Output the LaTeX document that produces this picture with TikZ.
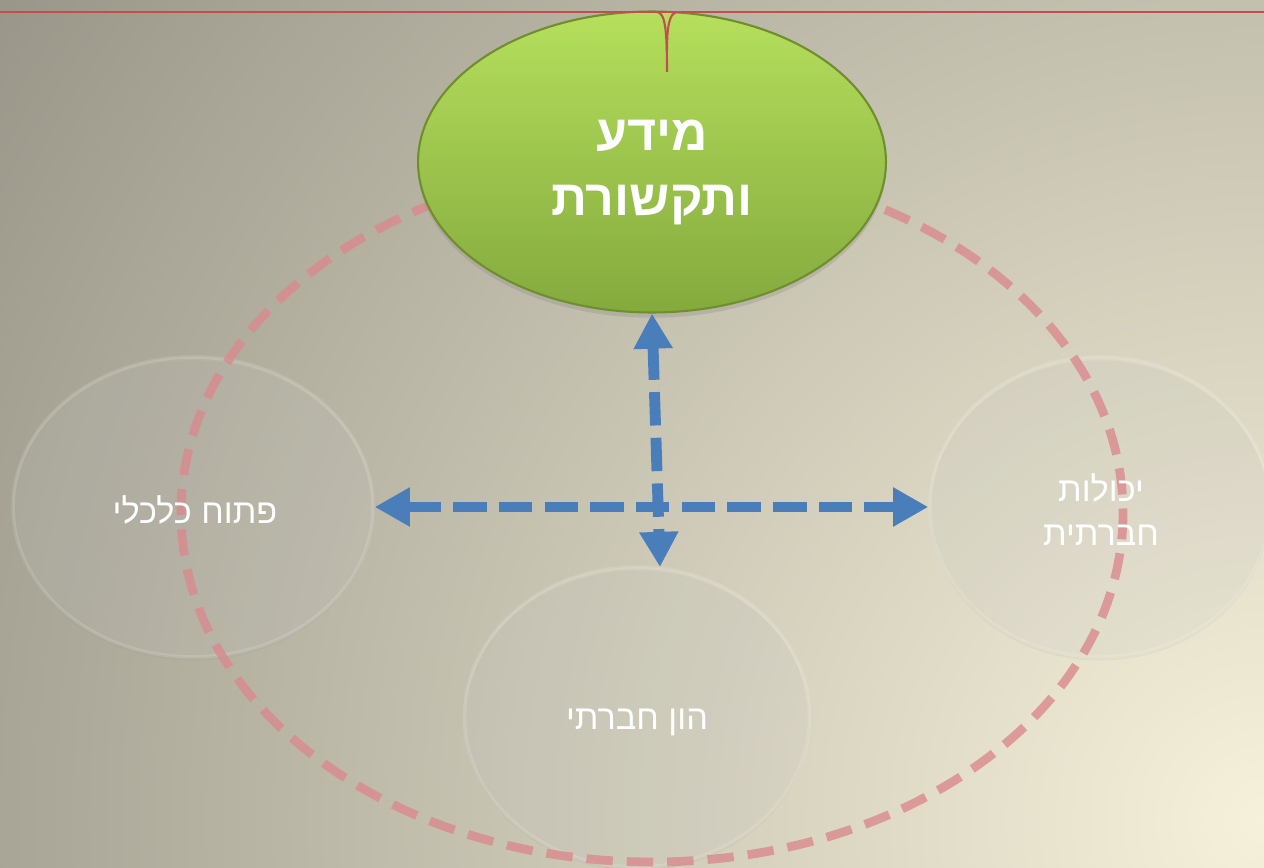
\documentclass[tikz,border=0pt]{standalone}
\usepackage{fontspec}
\usetikzlibrary{arrows.meta,shapes.geometric,shadows}
\newfontfamily\hebfont[Script=Hebrew]{Liberation Sans}
\TeXXeTstate=1
\definecolor{bgdark}{HTML}{9A978A}
\definecolor{bglight}{HTML}{F6F1DA}
\definecolor{topline}{HTML}{C0504D}
\definecolor{ringcol}{HTML}{DA8A8D}
\definecolor{arrowcol}{HTML}{4A7EBB}
\definecolor{greentop}{HTML}{B5DF5C}
\definecolor{greenbot}{HTML}{84AA3E}
\definecolor{greenedge}{HTML}{6E8F2B}

\begin{document}
\begin{tikzpicture}[x=0.02cm, y=-0.02cm,
		bubble/.style={ellipse, inner sep=0pt, minimum width=#1, minimum height=6cm, fill=white, fill opacity=0.09, draw=white, draw opacity=0.14, line width=2pt, drop shadow={opacity=0.08, shadow xshift=0pt, shadow yshift=-2pt}},
		bubbletext/.style={text=white, align=center, font=\hebfont\fontsize{19.5}{25}\selectfont},
		infobubble/.style={ellipse, inner sep=0pt, minimum width=9.36cm, minimum height=6.02cm, top color=greentop, bottom color=greenbot, draw=greenedge, line width=1.2pt, drop shadow={opacity=0.25, shadow xshift=0pt, shadow yshift=-3pt}},
		infotext/.style={text=white, align=center, font=\hebfont\bfseries\fontsize{28.5}{37}\selectfont},
		ringline/.style={draw=ringcol, draw opacity=0.8, line width=5pt, dash pattern=on 15pt off 8pt},
		bluearrow/.style={draw=arrowcol, line width=6.2pt, dash pattern=on 19pt off 7pt, {Triangle[length=20pt,width=21pt]}-{Triangle[length=20pt,width=21pt]}},
		redline/.style={draw=topline, line width=1.2pt},
	]
	\useasboundingbox (0,0) rectangle (1264,868);
	\begin{scope}
		\clip (0,0) rectangle (1264,868);
		\fill[bgdark] (0,0) rectangle (1264,868);
		\shade[inner color=bglight, outer color=bgdark] (1264,820) circle (1500);
	\end{scope}
	\node[bubble=7.2cm] (econ) at (193,507) {};
	\node[bubble=6.8cm] (social) at (1100,507) {};
	\node[bubble=6.9cm] (capital) at (637,717) {};
	\draw[ringline] (652,513) ellipse [x radius=471, y radius=349];
	\node[infobubble] (info) at (652,162) {};
	\node[infotext] (infolabel) at (652,172) {\beginR מידע\endR\\\beginR ותקשורת\endR};
	\coordinate (capitaltop) at (660,567);
	\draw[bluearrow] (econ.east) -- (social.west);
	\draw[bluearrow] (info.south) -- (capitaltop);
	\node[bubbletext] (econlabel) at (195,510) {\beginR פתוח כלכלי\endR};
	\node[bubbletext] (sociallabel) at (1101,510) {\beginR יכולות\endR\\\beginR חברתית\endR};
	\node[bubbletext] (capitallabel) at (637,722) {\beginR הון חברתי\endR};
	\draw[redline] (0,12) -- (1264,12);
	\draw[redline] (657,12) .. controls (665,13) and (667,28) .. (667,72);
	\draw[redline] (677,12) .. controls (669,13) and (667,28) .. (667,50);
\end{tikzpicture}
\end{document}
